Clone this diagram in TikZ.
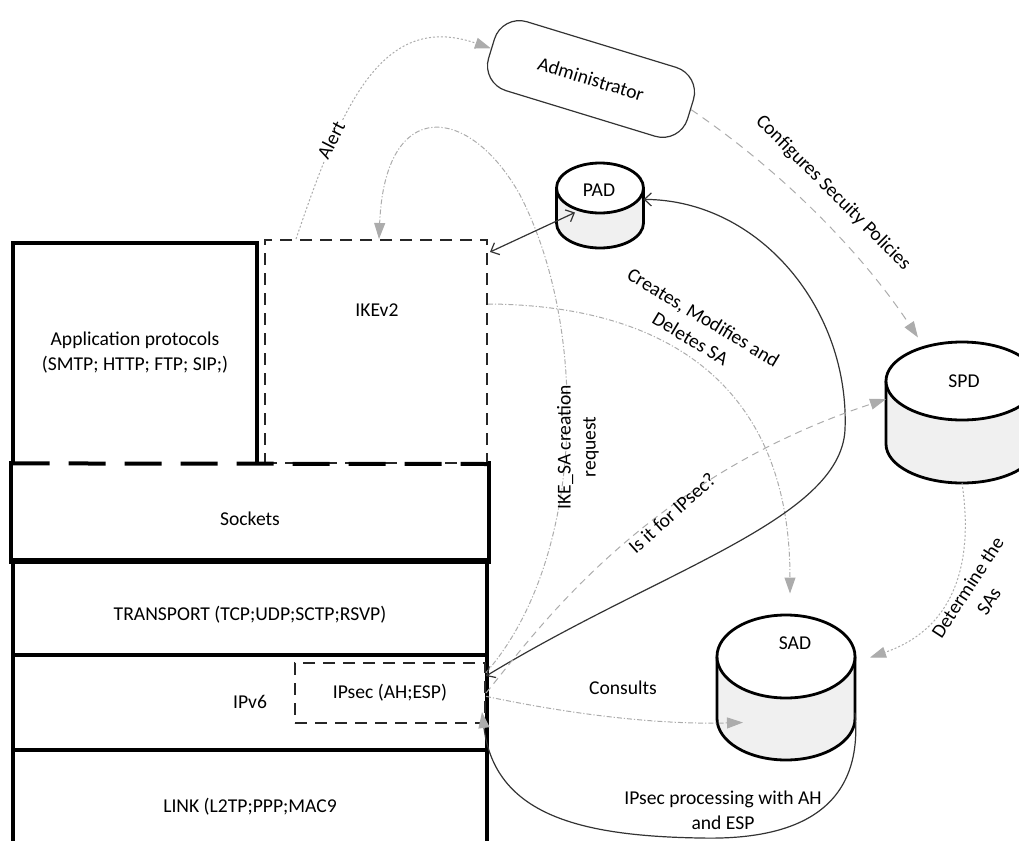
\documentclass[tikz,border=0pt]{standalone}
\usepackage{fontspec}
\setmainfont{Carlito}
\usepackage{tikz}
\usetikzlibrary{arrows.meta,calc,positioning}
\colorlet{flowgray}{gray!65}
\colorlet{drumgray}{gray!12}
\colorlet{inkline}{black!80}
% database drum drawn over a plain node: #1 node, #2 x radius, #3 y radius of the lids
\newcommand{\dbdrum}[3]{%
  \filldraw[fill=drumgray,line width=1.4pt] ([yshift=-#3]#1.north west) -- ([yshift=#3]#1.south west)
    arc[start angle=180,end angle=360,x radius=#2,y radius=#3] -- ([yshift=-#3]#1.north east);
  \filldraw[fill=white,line width=1.4pt] ([yshift=-#3]#1.north) ellipse[x radius=#2,y radius=#3];}

\begin{document}
\begin{tikzpicture}[x=0.5pt,y=-0.5pt,
  every node/.style={font=\fontsize{9.8}{12.5}\selectfont},
  layer/.style={draw,line width=2pt,minimum width=237pt,text height=14pt,inner sep=0pt},
  dashbox/.style={draw=black!85,line width=1pt,dash pattern=on 6pt off 4pt,inner sep=0pt},
  drum/.style={inner sep=0pt,outer sep=0pt},
  flow/.style={flowgray,line width=0.5pt,-{Triangle[length=8pt,width=5.5pt]}},
  dotflow/.style={flow,dash pattern=on 1pt off 1pt},
  dashdotflow/.style={flow,dash pattern=on 2.5pt off 1pt on 0.6pt off 1pt},
  dashflow/.style={flow,dash pattern=on 3.5pt off 2.5pt},
  barbs/.style={inkline,line width=0.6pt,{Straight Barb[length=3.5pt,width=6.5pt]}-{Straight Barb[length=3.5pt,width=6.5pt]}}]
\clip (0,0) rectangle (1019,841);
% protocol stack
\node[layer,draw=none,minimum height=48.5pt] (sock) at (250,511.5) {Sockets};
\draw[line width=2pt] (sock.north west) |- (sock.south east) -- (sock.north east);
\node[layer,minimum height=47.5pt] (transp) at (250,607.5) {TRANSPORT (TCP;UDP;SCTP;RSVP)};
\node[layer,minimum height=47.5pt,text height=6.5pt] (ipv6) at (250,702.5) {IPv6};
\node[layer,minimum height=50pt] (link) at (250,800) {LINK (L2TP;PPP;MAC9};
\node[minimum width=122pt,minimum height=110pt,align=center] (app) at (135,353)
  {Application protocols\\(SMTP; HTTP; FTP; SIP;)};
\draw[line width=2pt] (app.south west) |- (app.north east) -- (app.south east);
\node[dashbox,minimum width=111pt,minimum height=111.5pt] (ike) at (376,351.5) {};
\node (iketxt) at (377,310) {IKEv2};
\draw[line width=2pt,dash pattern=on 18.5pt off 9.5pt] (app.south west) -- (ike.south east);
\node[dashbox,minimum width=95pt,minimum height=30pt] (ipsec) at (390,693) {IPsec (AH;ESP)};

% administrator and the three databases
\node[draw=inkline,line width=0.6pt,rounded corners=13pt,minimum width=104pt,minimum height=36pt,rotate=-17]
  (admin) at (591,79) {Administrator};
\node[drum,minimum width=43.5pt,minimum height=42.5pt] (pad) at (600,205.5) {};
\dbdrum{pad}{21.75pt}{12.5pt}
\node (padtxt) at (599,190) {PAD};
\node[drum,minimum width=76pt,minimum height=70.5pt] (spd) at (962,412.5) {};
\dbdrum{spd}{38pt}{19.5pt}
\node (spdtxt) at (964,381) {SPD};
\node[drum,minimum width=69pt,minimum height=72.5pt] (sad) at (786,687.5) {};
\dbdrum{sad}{34.5pt}{20.75pt}
\node (sadtxt) at (795,643) {SAD};

% flows
\draw[dotflow] ($(ike.north west)+(32,0)$) .. controls (340,110) and (380,10) .. (admin.west);
\draw[dashdotflow] (ipsec.12) .. controls (585,560) and (590,330) .. (520,195)
  .. controls (470,105) and (385,95) .. ($(ike.north west)+(115,0)$);
\draw[dashdotflow] ($(ike.north east)+(0,65)$) .. controls (660,305) and (790,380) .. ($(sad.center)+(4,-94)$);
\draw[barbs] ($(ike.north east)+(2,13)$) -- ($(pad.center)+(-25,7)$);
\draw[barbs] (pad.8) .. controls (760,200) and (850,310) .. (845,430)
  .. controls (840,520) and (660,570) .. (ipsec.10);
\draw[dashflow] (ipsec.east) .. controls (530,640) and (640,480) .. (spd.170);
\draw[dashdotflow] (ipsec.-2) .. controls (560,712) and (650,725) .. ($(sad.center)+(-43,35)$);
\draw[flow,dash pattern=on 4pt off 3pt] (admin.east) .. controls (780,170) and (860,250) .. ($(spd.center)+(-44,-75)$);
\draw[dotflow] (spd.south) .. controls (975,570) and (950,630) .. ($(sad.center)+(84,-30)$);
\draw[inkline,line width=0.6pt,-{Triangle[length=8pt,width=5.5pt,color=flowgray]}]
  (sad.-20) .. controls (865,820) and (780,840) .. (700,838)
  .. controls (580,836) and (495,815) .. ($(ipsec.south east)+(-4,-12)$);

% labels
\node[fill=white,inner sep=1pt,rotate=63] (alertlbl) at (331,140) {Alert};
\node[rotate=90,align=center] (ikesalbl) at (578,447) {IKE\_SA creation\\request};
\node[rotate=-31,align=center] (createlbl) at (697,328) {Creates, Modifies and\\Deletes SA};
\node[rotate=-45] (conflbl) at (833,193) {Configures Secuity Policies};
\node[rotate=42] (askslbl) at (672,513) {Is it for IPsec?};
\node (consultlbl) at (623,688) {Consults};
\node[rotate=57,align=center] (determlbl) at (978,594) {Determine the\\SAs};
\node[align=center] (proclbl) at (723,810) {IPsec processing with AH\\and ESP};
\end{tikzpicture}
\end{document}
